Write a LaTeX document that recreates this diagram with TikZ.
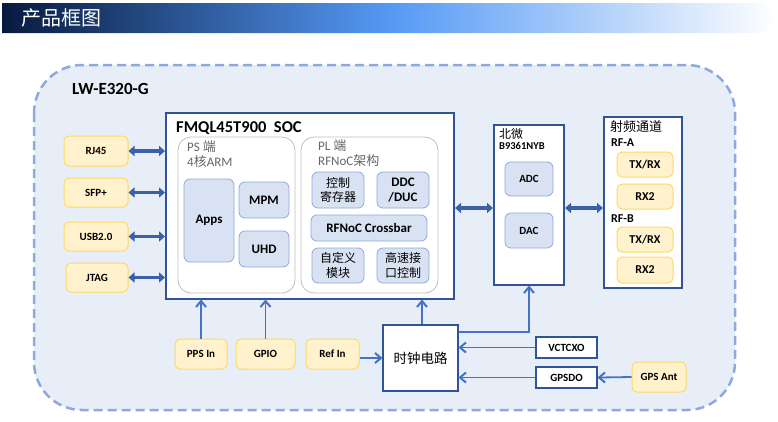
\documentclass[tikz,border=0pt]{standalone}
\usepackage{fontspec}
\setmainfont{Carlito}
\newfontfamily\cjk{Noto Sans CJK SC}
\usetikzlibrary{arrows.meta,calc}
\definecolor{navy}{HTML}{071A3E}
\definecolor{midblue}{HTML}{5599F5}
\definecolor{darkb}{HTML}{2F5597}
\definecolor{lineb}{HTML}{4472C4}
\definecolor{innerfill}{HTML}{D9E2F3}
\definecolor{innerdraw}{HTML}{8FAADC}
\definecolor{yfill}{HTML}{FFF2CC}
\definecolor{ydraw}{HTML}{FFD966}
\definecolor{outerfill}{HTML}{E7EEF8}
\definecolor{outerdraw}{HTML}{8EA9DB}
\definecolor{grayline}{HTML}{BFBFBF}
\definecolor{graytext}{HTML}{666666}
\pgfdeclarehorizontalshading{titlebar}{100bp}{color(0bp)=(navy); color(25bp)=(navy); color(50bp)=(midblue); color(75bp)=(white); color(100bp)=(white)}
\begin{document}
\begin{tikzpicture}[x=1pt,y=-1pt,
  darkbox/.style={draw=darkb,line width=2pt,fill=white,inner sep=0pt},
  inner/.style={draw=innerdraw,line width=0.8pt,fill=innerfill,rounded corners=6pt,inner sep=0pt,align=center,font=\fontsize{13}{15.5}\selectfont\bfseries},
  ybox/.style={draw=ydraw,line width=1pt,fill=yfill,rounded corners=5pt,inner sep=0pt,align=center,font=\fontsize{11}{13}\selectfont\bfseries},
  graybox/.style={draw=grayline,line width=0.8pt,fill=white,rounded corners=13pt,inner sep=0pt},
  smallbox/.style={draw=darkb,line width=2pt,fill=white,inner sep=0pt,font=\fontsize{11}{13}\selectfont\bfseries},
  conn/.style={draw=lineb,line width=1.8pt},
  chevron/.style={draw=lineb,line width=2pt,line join=miter,line cap=butt},
  dbl/.style={draw=lineb!85!black,line width=3.2pt,{Triangle[width=10pt,length=6pt]}-{Triangle[width=10pt,length=6pt]}},
  lbl/.style={inner sep=0pt,anchor=north west,align=left}
]
\useasboundingbox (0,0) rectangle (778,421);
% title bar
\shade[shading=titlebar] (2,3) -- (764,3) -- (777,18) -- (764,33) -- (2,33) -- cycle;
\node[inner sep=0pt,anchor=west,text=white,font=\cjk\fontsize{20}{22}\selectfont] (title) at (21,18) {产品框图};
% outer dashed region
\draw[fill=outerfill,draw=outerdraw,line width=2.5pt,dash pattern=on 9pt off 5pt,rounded corners=48pt] (34,65) rectangle (735,410);
\node[inner sep=0pt,anchor=west,font=\fontsize{17}{19}\selectfont\bfseries] (lw) at (72,89) {LW-E320-G};
% SOC
\node[darkbox,minimum width=288pt,minimum height=186pt] (soc) at (310,206) {};
\node[inner sep=0pt,anchor=west,font=\fontsize{16.5}{18}\selectfont\bfseries] (soct) at (176,128) {FMQL45T900\ \ SOC};
\node[graybox,minimum width=117pt,minimum height=156pt] (ps) at (236.5,215) {};
\node[lbl,text=graytext,font=\fontsize{13}{15.5}\selectfont] (psl) at (187,140) {PS {\cjk 端}\\4{\cjk 核}ARM};
\node[inner,minimum width=50pt,minimum height=83pt] (apps) at (209,220.5) {Apps};
\node[inner,minimum width=50pt,minimum height=36pt] (mpm) at (264,200) {MPM};
\node[inner,minimum width=50pt,minimum height=36pt] (uhd) at (264,249) {UHD};
\node[graybox,minimum width=137pt,minimum height=156pt] (pl) at (369.5,215) {};
\node[lbl,text=graytext,font=\fontsize{13}{15.5}\selectfont] (pll) at (318,139) {PL {\cjk 端}\\RFNoC{\cjk 架构}};
\node[inner,minimum width=52pt,minimum height=36pt,font=\cjk\fontsize{12}{14.5}\selectfont] (ctrl) at (338,190) {控制\\寄存器};
\node[inner,minimum width=52pt,minimum height=36pt] (ddc) at (403,190) {DDC\\/DUC};
\node[inner,minimum width=116pt,minimum height=26pt] (xbar) at (369,228) {RFNoC Crossbar};
\node[inner,minimum width=52pt,minimum height=35pt,font=\cjk\fontsize{12}{14.5}\selectfont] (cust) at (338,265.5) {自定义\\模块};
\node[inner,minimum width=52pt,minimum height=35pt,font=\cjk\fontsize{12}{14.5}\selectfont] (hsi) at (403,265.5) {高速接\\口控制};
% AD chip
\node[darkbox,minimum width=70pt,minimum height=160pt] (ad) at (529,205) {};
\node[lbl] (adl) at (499,128) {{\cjk\fontsize{12}{14}\selectfont 北微}\\[-1pt]{\fontsize{10.5}{12}\selectfont\bfseries B9361NYB}};
\node[inner,minimum width=48pt,minimum height=34pt,font=\fontsize{11}{13}\selectfont\bfseries] (adc) at (529,179) {ADC};
\node[inner,minimum width=48pt,minimum height=35pt,font=\fontsize{11}{13}\selectfont\bfseries] (dac) at (529,230.5) {DAC};
% RF channels
\node[darkbox,minimum width=78pt,minimum height=171pt] (rf) at (643,202.5) {};
\node[lbl,font=\cjk\fontsize{13}{15}\selectfont] (rfl) at (610,120) {射频通道};
\node[inner sep=0pt,anchor=west,font=\fontsize{12}{14}\selectfont\bfseries] (rfa) at (611,143) {RF-A};
\node[inner sep=0pt,anchor=west,font=\fontsize{12}{14}\selectfont\bfseries] (rfb) at (611,219) {RF-B};
\node[ybox,minimum width=56pt,minimum height=25pt,font=\fontsize{12}{14}\selectfont\bfseries] (txa) at (645,164.5) {TX/RX};
\node[ybox,minimum width=56pt,minimum height=25pt,font=\fontsize{12}{14}\selectfont\bfseries] (rxa) at (645,196.5) {RX2};
\node[ybox,minimum width=56pt,minimum height=25pt,font=\fontsize{12}{14}\selectfont\bfseries] (txb) at (645,239.5) {TX/RX};
\node[ybox,minimum width=56pt,minimum height=26pt,font=\fontsize{12}{14}\selectfont\bfseries] (rxb) at (645,270) {RX2};
% left interfaces
\node[ybox,minimum width=64pt,minimum height=30pt] (rj) at (96,151) {RJ45};
\node[ybox,minimum width=64pt,minimum height=29pt] (sfp) at (96,192.5) {SFP+};
\node[ybox,minimum width=64pt,minimum height=29pt] (usb) at (96,236.5) {USB2.0};
\node[ybox,minimum width=62pt,minimum height=29pt] (jtag) at (97,277.5) {JTAG};
% bottom inputs
\node[ybox,minimum width=52pt,minimum height=30pt] (pps) at (201,354) {PPS In};
\node[ybox,minimum width=59pt,minimum height=30pt] (gpio) at (265.5,354) {GPIO};
\node[ybox,minimum width=53pt,minimum height=30pt] (ref) at (332.5,354) {Ref In};
\node[darkbox,minimum width=75pt,minimum height=66pt,font=\cjk\fontsize{13.5}{16}\selectfont] (clk) at (420.5,358) {时钟电路};
\node[smallbox,minimum width=61pt,minimum height=21pt] (vc) at (566.5,347.5) {VCTCXO};
\node[smallbox,minimum width=61pt,minimum height=21pt] (gd) at (566.5,377.5) {GPSDO};
\node[ybox,minimum width=54pt,minimum height=30pt] (ant) at (659,377) {GPS Ant};
% arrow end points
\coordinate (eP) at ($(pps.north |- soc.south)+(0,1)$);
\coordinate (eG) at ($(gpio.north |- soc.south)+(0,1)$);
\coordinate (eC) at ($(clk.north |- soc.south)+(1.5,1)$);
\coordinate (eA) at ($(ad.south)+(0,1)$);
\coordinate (eR) at ($(clk.west)+(-1,0)$);
\coordinate (eV) at ($(vc.west -| clk.east)+(1,0)$);
\coordinate (eD) at ($(gd.west -| clk.east)+(1,0)$);
\coordinate (eS) at ($(gd.east)+(1,0)$);
% connectors
\draw[dbl] (rj.east) -- (rj.east -| soc.west);
\draw[dbl] (sfp.east) -- (sfp.east -| soc.west);
\draw[dbl] (usb.east) -- (usb.east -| soc.west);
\draw[dbl] (jtag.east) -- (jtag.east -| soc.west);
\draw[dbl] ($(soc.east)+(0,2)$) -- ($(soc.east -| ad.west)+(0,2)$);
\draw[dbl] ($(ad.east)+(0,3)$) -- ($(ad.east -| rf.west)+(0,3)$);
\draw[conn] (pps.north) -- (eP);
\draw[conn] (gpio.north) -- (eG);
\draw[conn] (clk.west -| ref.east) -- (eR);
\draw[conn] ($(clk.north)+(1.5,0)$) -- (eC);
\draw[conn] ($(clk.north east)+(0,8)$) -| (eA);
\draw[conn] (vc.west) -- (eV);
\draw[conn] (gd.west) -- (eD);
\draw[conn] (ant.west) -- (eS);
% arrow heads (open chevrons)
\draw[chevron] ($(eP)+(-5,6)$) -- (eP) -- ($(eP)+(5,6)$);
\draw[chevron] ($(eG)+(-5,6)$) -- (eG) -- ($(eG)+(5,6)$);
\draw[chevron] ($(eC)+(-5,6)$) -- (eC) -- ($(eC)+(5,6)$);
\draw[chevron] ($(eA)+(-5,6)$) -- (eA) -- ($(eA)+(5,6)$);
\draw[chevron] ($(eR)+(-6,-5)$) -- (eR) -- ($(eR)+(-6,5)$);
\draw[chevron] ($(eV)+(6,-5)$) -- (eV) -- ($(eV)+(6,5)$);
\draw[chevron] ($(eD)+(6,-5)$) -- (eD) -- ($(eD)+(6,5)$);
\draw[chevron] ($(eS)+(6,-5)$) -- (eS) -- ($(eS)+(6,5)$);
\end{tikzpicture}
\end{document}
